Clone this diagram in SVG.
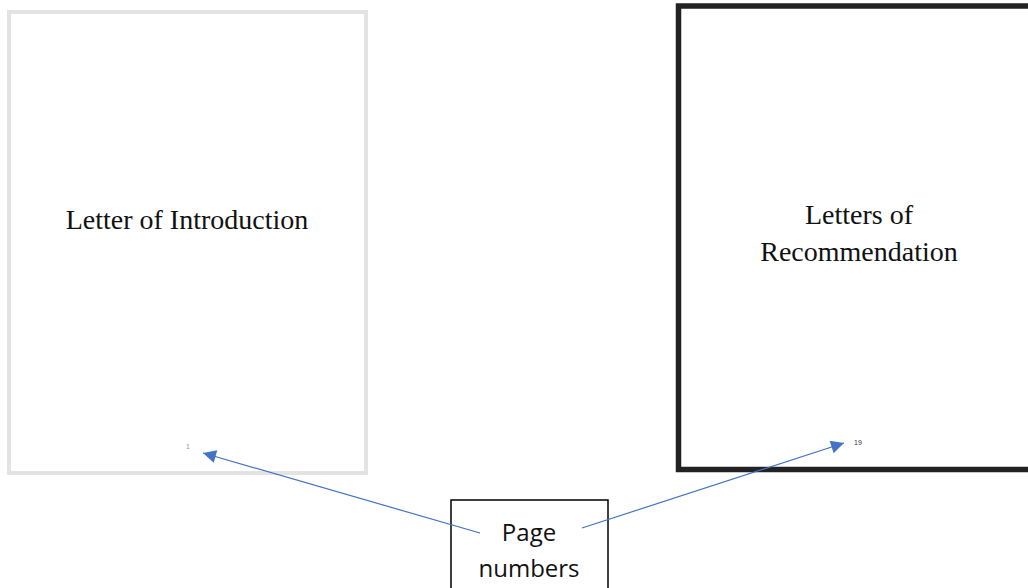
<svg xmlns="http://www.w3.org/2000/svg" width="1028" height="588" viewBox="0 0 1028 588">
<style>
.title{font-family:"Liberation Serif","Times New Roman",serif;font-size:28px;fill:#111;text-anchor:middle}
.pn{font-family:"Liberation Sans",Arial,sans-serif;font-size:7px;text-anchor:middle}
.lbl{font-family:"Open Sans","Liberation Sans",sans-serif;font-size:24px;fill:#111;text-anchor:middle}
.conn{stroke:#4472c4;stroke-width:1.2;fill:none;marker-end:url(#ah)}
</style>
<defs>
<marker id="ah" viewBox="0 0 10 10" refX="10" refY="5" markerWidth="16" markerHeight="13" markerUnits="userSpaceOnUse" orient="auto">
<path d="M0,0 L10,5 L0,10 z" fill="#4472c4"/>
</marker>
</defs>
<rect width="1028" height="588" fill="#fff"/>
<g id="page-intro">
<rect x="9" y="12" width="357" height="461" fill="#fff" stroke="#e3e3e3" stroke-width="4"/>
<text class="title" x="187" y="229">Letter of Introduction</text>
<text class="pn" x="188" y="449" fill="#999">1</text>
</g>
<g id="page-recommendation">
<rect x="678.5" y="6" width="360" height="463.5" fill="#fff" stroke="#222" stroke-width="5.5"/>
<text class="title" x="859" y="224">Letters of</text>
<text class="title" x="859" y="261">Recommendation</text>
<text class="pn" x="858" y="445" fill="#333">19</text>
</g>
<g id="label-box">
<rect x="451" y="500" width="157" height="100" fill="#fff" stroke="#000" stroke-width="1.5"/>
<text class="lbl" x="529" y="541">Page</text>
<text class="lbl" x="529" y="577">numbers</text>
</g>
<g id="connectors">
<line class="conn" x1="480" y1="533" x2="203" y2="453"/>
<line class="conn" x1="582" y1="528" x2="844" y2="443"/>
</g>
</svg>
